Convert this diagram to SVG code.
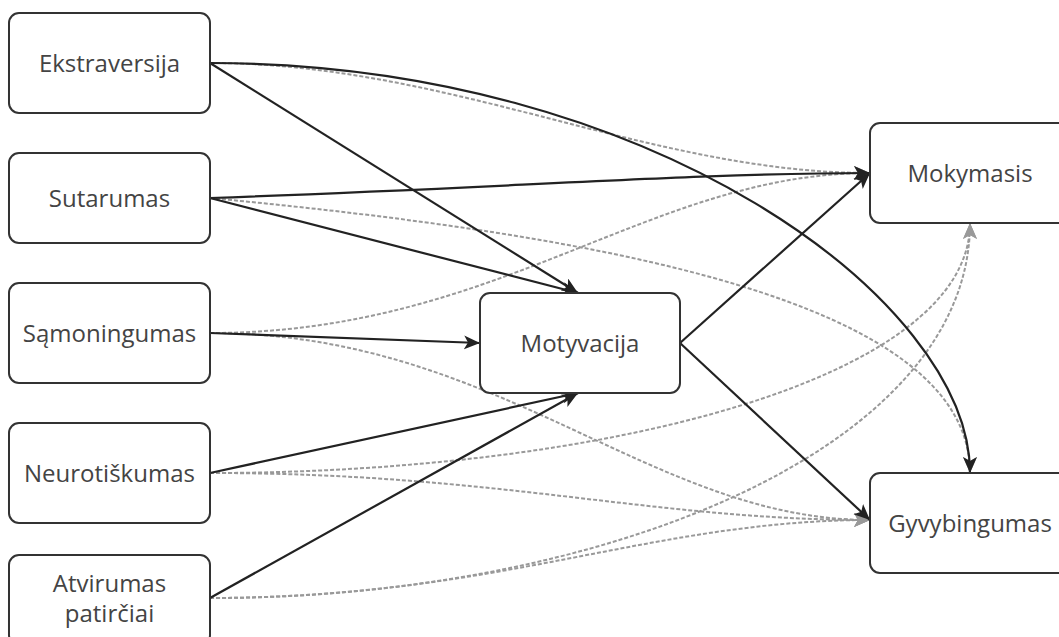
<svg xmlns="http://www.w3.org/2000/svg" width="1059" height="637" viewBox="0 0 1059 637">
<style>
.node rect{fill:#fff;stroke:#333;stroke-width:2}
.node text{font-family:"Open Sans","Noto Sans",sans-serif;font-size:24px;fill:#444;text-anchor:middle}
.solid{fill:none;stroke:#222;stroke-width:2.2}
.dash{fill:none;stroke:#999;stroke-width:2;stroke-dasharray:4 2}
</style>
<defs>
<marker id="ab" markerUnits="userSpaceOnUse" markerWidth="18" markerHeight="16" refX="16" refY="7" orient="auto"><path d="M0,0 L16,7 L0,14 L4,7 z" fill="#222"/></marker>
<marker id="ag" markerUnits="userSpaceOnUse" markerWidth="18" markerHeight="16" refX="16" refY="7" orient="auto"><path d="M0,0 L16,7 L0,14 L4,7 z" fill="#999"/></marker>
</defs>
<rect width="1059" height="637" fill="#fff"/>
<g id="connectors">
<path class="dash" marker-end="url(#ag)" d="M210,63 C450,63 650,173 870,173"/>
<path class="dash" marker-end="url(#ag)" d="M210,198 C600,235 970,300 970,473"/>
<path class="dash" marker-end="url(#ag)" d="M210,333 C500,333 650,173 870,173"/>
<path class="dash" marker-end="url(#ag)" d="M210,333 C500,333 650,520 870,520"/>
<path class="dash" marker-end="url(#ag)" d="M210,473 C600,473 970,380 970,223"/>
<path class="dash" marker-end="url(#ag)" d="M210,473 C500,473 650,520 870,520"/>
<path class="dash" marker-end="url(#ag)" d="M210,598 C600,598 970,450 970,223"/>
<path class="dash" marker-end="url(#ag)" d="M210,598 C500,598 650,520 870,520"/>
<path class="solid" marker-end="url(#ab)" d="M210,63 L578,293"/>
<path class="solid" marker-end="url(#ab)" d="M210,198 L578,293"/>
<path class="solid" marker-end="url(#ab)" d="M210,333 L480,343"/>
<path class="solid" marker-end="url(#ab)" d="M210,473 L578,393"/>
<path class="solid" marker-end="url(#ab)" d="M210,598 L578,393"/>
<path class="solid" marker-end="url(#ab)" d="M680,343 L870,173"/>
<path class="solid" marker-end="url(#ab)" d="M680,343 L870,520"/>
<path class="solid" marker-end="url(#ab)" d="M210,63 C650,63 970,300 970,473"/>
<path class="solid" marker-end="url(#ab)" d="M210,198 C500,188 700,173 870,173"/>
</g>
<g id="ekstraversija" class="node"><rect x="9" y="13" width="201" height="100" rx="10"/><text x="109.5" y="72">Ekstraversija</text></g>
<g id="sutarumas" class="node"><rect x="9" y="153" width="201" height="90" rx="10"/><text x="109.5" y="207">Sutarumas</text></g>
<g id="samoningumas" class="node"><rect x="9" y="283" width="201" height="100" rx="10"/><text x="109.5" y="342">Sąmoningumas</text></g>
<g id="neurotiskumas" class="node"><rect x="9" y="423" width="201" height="100" rx="10"/><text x="109.5" y="482">Neurotiškumas</text></g>
<g id="atvirumas" class="node"><rect x="9" y="555" width="201" height="90" rx="10"/><text x="109.5" y="592">Atvirumas</text><text x="109.5" y="622">patirčiai</text></g>
<g id="motyvacija" class="node"><rect x="480" y="293" width="200" height="100" rx="10"/><text x="580" y="352">Motyvacija</text></g>
<g id="mokymasis" class="node"><rect x="870" y="123" width="200" height="100" rx="10"/><text x="970" y="182">Mokymasis</text></g>
<g id="gyvybingumas" class="node"><rect x="870" y="473" width="200" height="100" rx="10"/><text x="970" y="532">Gyvybingumas</text></g>
</svg>
